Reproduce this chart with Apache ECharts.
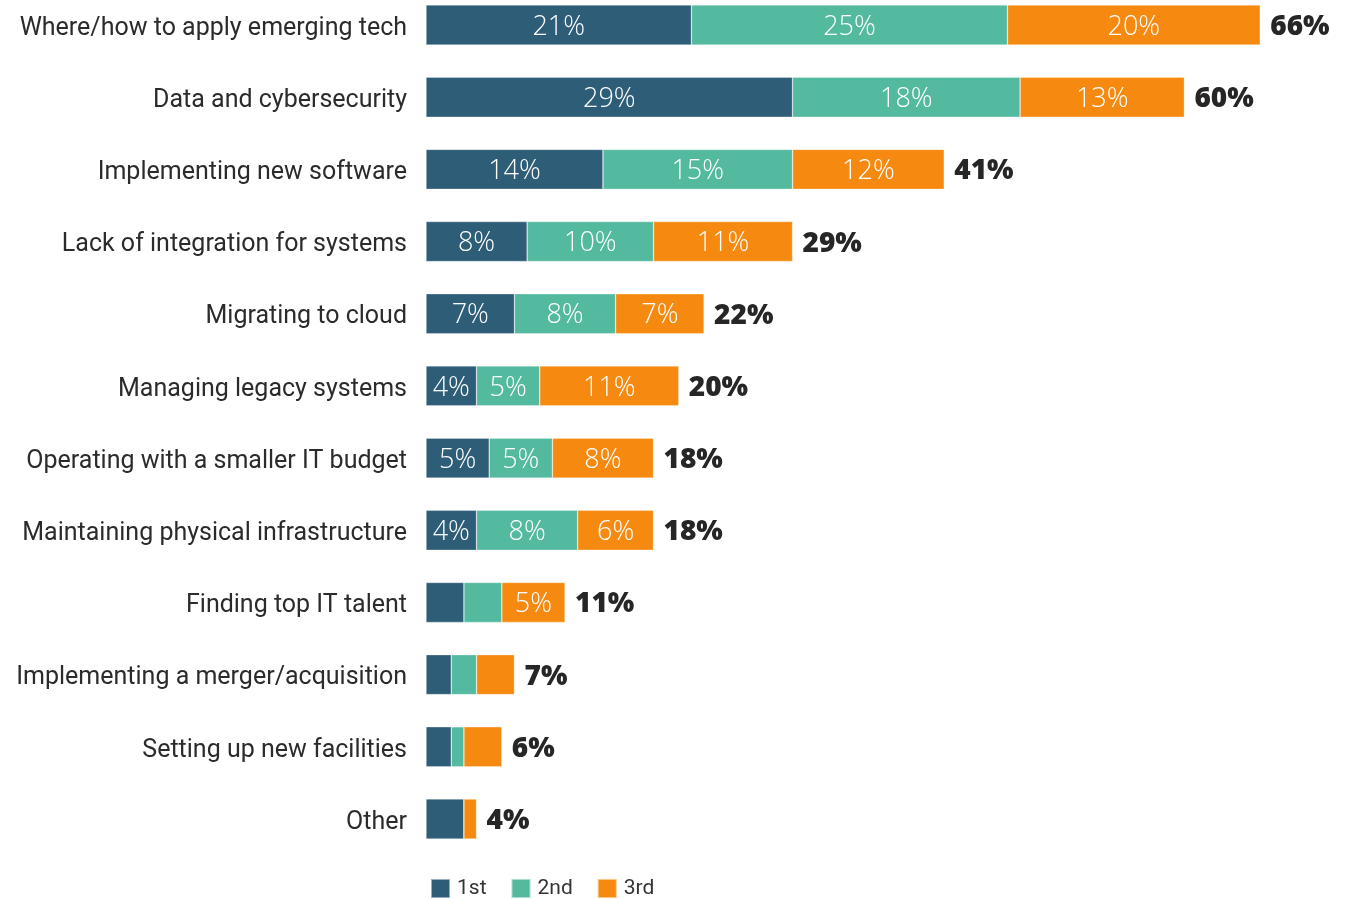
<!DOCTYPE html>
<html>
<head>
<meta charset="utf-8">
<script src="https://cdn.jsdelivr.net/npm/echarts@6/dist/echarts.min.js"></script>
<style>
  html, body { margin: 0; padding: 0; background: #fff; }
  #chart { width: 1349px; height: 899px; }
</style>
</head>
<body>
<div id="chart"></div>
<script>
// Top IT challenges, ranked 1st / 2nd / 3rd (percent of respondents)
const categories = [
  'Where/how to apply emerging tech',
  'Data and cybersecurity',
  'Implementing new software',
  'Lack of integration for systems',
  'Migrating to cloud',
  'Managing legacy systems',
  'Operating with a smaller IT budget',
  'Maintaining physical infrastructure',
  'Finding top IT talent',
  'Implementing a merger/acquisition',
  'Setting up new facilities',
  'Other'
];
const first  = [21, 29, 14, 8, 7, 4, 5, 4, 3, 2, 2, 3];
const second = [25, 18, 15, 10, 8, 5, 5, 8, 3, 2, 1, 0];
const third  = [20, 13, 12, 11, 7, 11, 8, 6, 5, 3, 3, 1];
const totals = [66, 60, 41, 29, 22, 20, 18, 18, 11, 7, 6, 4];

const colors = ['#2e5d78', '#53b99f', '#f68a10'];
const fontFamily = '"Open Sans", "Noto Sans", sans-serif';
const labelFont = 'Roboto, "Open Sans", sans-serif';

const insideLabel = {
  show: true,
  position: 'inside',
  offset: [0, 2],
  color: '#fff',
  fontFamily: fontFamily,
  fontWeight: 300,
  fontSize: 27,
  formatter: p => (p.value >= 4 ? p.value + '%' : '')
};

function segment(name, data, color) {
  return {
    name: name,
    type: 'bar',
    stack: 'rank',
    data: data,
    barWidth: 40,
    itemStyle: { color: color, borderColor: 'rgba(255,255,255,0.5)', borderWidth: 0.6 },
    label: insideLabel,
    emphasis: { disabled: true }
  };
}

const chart = echarts.init(document.getElementById('chart'), null, { renderer: 'canvas' });
chart.setOption({
  animation: false,
  backgroundColor: '#fff',
  grid: { left: 426, right: 38.2, top: 25, bottom: 80, containLabel: false },
  xAxis: {
    type: 'value', min: 0, max: 70,
    show: false
  },
  yAxis: {
    type: 'category',
    data: categories,
    inverse: true,
    boundaryGap: false,
    axisLine: { show: false },
    axisTick: { show: false },
    splitLine: { show: false },
    axisLabel: {
      margin: 19,
      formatter: v => '{c|' + v + '}',
      rich: {
        c: {
          color: '#2b2b2b',
          fontFamily: labelFont,
          fontSize: 25,
          padding: [7, 0, 0, 0]
        }
      }
    }
  },
  legend: {
    data: ['1st', '2nd', '3rd'],
    left: 430,
    top: 878,
    padding: 0,
    itemWidth: 19,
    itemHeight: 19,
    itemGap: 24,
    icon: 'rect',
    textStyle: { color: '#333', fontFamily: labelFont, fontSize: 21, padding: [3, 0, 0, 2] }
  },
  series: [
    segment('1st', first, colors[0]),
    segment('2nd', second, colors[1]),
    segment('3rd', third, colors[2]),
    {
      // zero-width cap at the end of each stack carrying the total
      name: 'total',
      type: 'bar',
      stack: 'rank',
      data: totals.map(() => 0),
      barWidth: 40,
      itemStyle: { color: 'transparent' },
      label: {
        show: true,
        position: 'right',
        distance: 10,
        offset: [0, 2],
        color: '#262626',
        fontFamily: fontFamily,
        fontWeight: 800,
        fontSize: 28,
        formatter: p => totals[p.dataIndex] + '%'
      },
      emphasis: { disabled: true }
    }
  ]
});
</script>
</body>
</html>
